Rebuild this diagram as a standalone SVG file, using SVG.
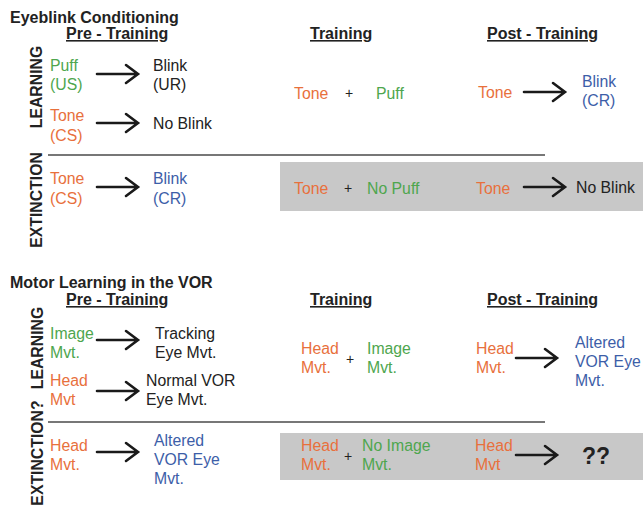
<svg xmlns="http://www.w3.org/2000/svg" width="643" height="509" viewBox="0 0 643 509">
<defs>
<style>
text{font-family:"Liberation Sans",Arial,sans-serif;font-size:15.8px;fill:#222}
.b{font-weight:bold;font-size:16px}
.h{font-weight:bold;font-size:16px;text-decoration:underline}
.g{fill:#4ea64e}
.o{fill:#e8703c}
.bl{fill:#3d5ea8}
.v{font-weight:bold;font-size:15.8px}
.p{font-size:14px}
.arr{fill:none;stroke:#1a1a1a;stroke-width:2.6;stroke-linecap:round;stroke-linejoin:miter}
.sep{stroke:#777;stroke-width:2}
.box{fill:#c8c8c8}
</style>
<g id="arrow"><path class="arr" d="M0 0H40M29 -9L41 0L29 9"/></g>
</defs>
<rect width="643" height="509" fill="#fff"/>

<g id="boxes">
<rect class="box" x="280" y="162" width="363" height="49"/>
<rect class="box" x="280" y="433" width="363" height="47"/>
</g>

<g id="connectors">
<use href="#arrow" x="97" y="74"/>
<use href="#arrow" x="97" y="123"/>
<use href="#arrow" x="97" y="187"/>
<use href="#arrow" x="524" y="92"/>
<use href="#arrow" x="524" y="187"/>
<use href="#arrow" x="97" y="340"/>
<use href="#arrow" x="97" y="391"/>
<use href="#arrow" x="97" y="452"/>
<use href="#arrow" x="516" y="358"/>
<use href="#arrow" x="516" y="455"/>
<line class="sep" x1="48" y1="155" x2="545" y2="155"/>
<line class="sep" x1="48" y1="422" x2="545" y2="422"/>
</g>

<g id="eyeblink">
<text class="b" x="10" y="23">Eyeblink Conditioning</text>
<text class="h" x="66" y="39">Pre - Training</text>
<text class="h" x="310" y="39">Training</text>
<text class="h" x="487" y="39">Post - Training</text>
<text class="v" transform="translate(42,87) rotate(-90)" text-anchor="middle">LEARNING</text>
<text class="v" transform="translate(42,200) rotate(-90)" text-anchor="middle">EXTINCTION</text>
<g id="n-puff"><text class="g" x="50" y="71">Puff</text><text class="g" x="50" y="90">(US)</text></g>
<g id="n-blink-ur"><text x="153" y="71">Blink</text><text x="153" y="90">(UR)</text></g>
<g id="n-tone1"><text class="o" x="50" y="121">Tone</text><text class="o" x="50" y="141">(CS)</text></g>
<g id="n-noblink1"><text x="153" y="129">No Blink</text></g>
<g id="n-tone2"><text class="o" x="50" y="184">Tone</text><text class="o" x="50" y="204">(CS)</text></g>
<g id="n-blink-cr1"><text class="bl" x="153" y="184">Blink</text><text class="bl" x="153" y="204">(CR)</text></g>
<g id="n-train1"><text class="o" x="294" y="99">Tone</text><text class="p" x="345" y="98">+</text><text class="g" x="376" y="99">Puff</text></g>
<g id="n-post1"><text class="o" x="478" y="98">Tone</text><text class="bl" x="582" y="87">Blink</text><text class="bl" x="582" y="106">(CR)</text></g>
<g id="n-train2"><text class="o" x="294" y="194">Tone</text><text class="p" x="344" y="193">+</text><text class="g" x="367" y="194">No Puff</text></g>
<g id="n-post2"><text class="o" x="476" y="194">Tone</text><text x="576" y="193">No Blink</text></g>
</g>

<g id="vor">
<text class="b" x="10" y="288">Motor Learning in the VOR</text>
<text class="h" x="66" y="305">Pre - Training</text>
<text class="h" x="310" y="305">Training</text>
<text class="h" x="487" y="305">Post - Training</text>
<text class="v" transform="translate(43,348) rotate(-90)" text-anchor="middle">LEARNING</text>
<text class="v" transform="translate(43,453) rotate(-90)" text-anchor="middle">EXTINCTION?</text>
<g id="n-image"><text class="g" x="50" y="339">Image</text><text class="g" x="50" y="358">Mvt.</text></g>
<g id="n-tracking"><text x="155" y="339">Tracking</text><text x="155" y="358">Eye Mvt.</text></g>
<g id="n-head1"><text class="o" x="50" y="386">Head</text><text class="o" x="50" y="405">Mvt</text></g>
<g id="n-normal"><text x="146" y="386">Normal VOR</text><text x="146" y="405">Eye Mvt.</text></g>
<g id="n-head2"><text class="o" x="50" y="451">Head</text><text class="o" x="50" y="470">Mvt.</text></g>
<g id="n-altered1"><text class="bl" x="154" y="446">Altered</text><text class="bl" x="154" y="465">VOR Eye</text><text class="bl" x="154" y="484">Mvt.</text></g>
<g id="n-train3"><text class="o" x="301" y="354">Head</text><text class="o" x="301" y="373">Mvt.</text><text class="p" x="346" y="364">+</text><text class="g" x="367" y="354">Image</text><text class="g" x="367" y="373">Mvt.</text></g>
<g id="n-post3"><text class="o" x="476" y="354">Head</text><text class="o" x="476" y="373">Mvt.</text><text class="bl" x="575" y="348">Altered</text><text class="bl" x="575" y="367">VOR Eye</text><text class="bl" x="575" y="386">Mvt.</text></g>
<g id="n-train4"><text class="o" x="301" y="451">Head</text><text class="o" x="301" y="470">Mvt.</text><text class="p" x="344" y="461">+</text><text class="g" x="362" y="451">No Image</text><text class="g" x="362" y="470">Mvt.</text></g>
<g id="n-post4"><text class="o" x="475" y="451">Head</text><text class="o" x="475" y="470">Mvt</text><text class="b" x="582" y="464" style="font-size:23px">??</text></g>
</g>
</svg>
